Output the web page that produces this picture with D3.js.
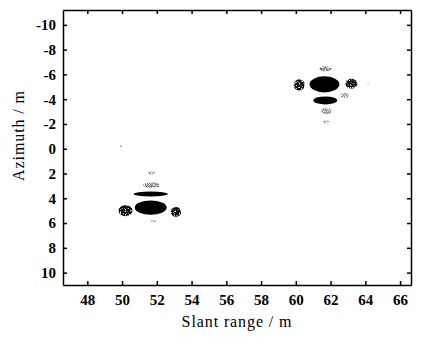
<!DOCTYPE html>
<html>
<head>
<meta charset="utf-8">
<script src="https://cdn.jsdelivr.net/npm/d3@7"></script>
<style>
	html, body {margin: 0; background: #fff; overflow: hidden}
	.axis text {font-family: "Liberation Serif", serif; font-size: 15px; font-weight: bold; fill: #000}
	.axis path, .axis line {stroke: #000; stroke-width: 1.5px}
	.title {font-family: "Liberation Serif", serif; font-size: 16px; letter-spacing: 0.9px; fill: #000}
</style>
</head>
<body>
<script>
	// tick values
	var xTicks = [48, 50, 52, 54, 56, 58, 60, 62, 64, 66];
	var yTicks = [-10, -8, -6, -4, -2, 0, 2, 4, 6, 8, 10];

	// image blobs (slant range m, azimuth m, half width m, half height m, darkness 0-1)
	var blobX = [61.65, 61.7, 60.2, 63.2, 61.7, 62.8, 61.75, 61.75, 64.15,
	             51.65, 51.65, 50.2, 53.1, 51.7, 51.7, 51.8, 49.95];
	var blobY = [-5.2, -3.9, -5.15, -5.25, -6.45, -4.3, -3.05, -2.15, -5.3,
	             4.75, 3.65, 5.0, 5.1, 2.95, 1.95, 5.85, -0.2];
	var blobW = [0.86, 0.69, 0.32, 0.34, 0.35, 0.25, 0.3, 0.2, 0.1,
	             0.92, 0.98, 0.4, 0.3, 0.5, 0.2, 0.15, 0.08];
	var blobH = [0.65, 0.32, 0.45, 0.4, 0.2, 0.2, 0.25, 0.12, 0.05,
	             0.58, 0.2, 0.45, 0.4, 0.22, 0.12, 0.08, 0.08];
	var blobK = [1, 1, 0.95, 0.95, 0.7, 0.55, 0.6, 0.5, 0.4,
	             1, 1, 0.95, 0.95, 0.65, 0.55, 0.6, 0.5];

	var width = 422, height = 337;
	var margin = {top: 10, right: 11, bottom: 52, left: 63};
	var w = width - margin.left - margin.right;
	var h = height - margin.top - margin.bottom;

	var svg = d3.select("body").append("svg")
		.attr("width", width)
		.attr("height", height);

	// grainy print look, heavy for faint lobes, light for strong ones
	var defs = svg.append("defs");
	function addGrain(id, slope, offset) {
		var f = defs.append("filter")
			.attr("id", id)
			.attr("x", "-20%").attr("y", "-20%")
			.attr("width", "140%").attr("height", "140%");
		f.append("feTurbulence")
			.attr("type", "fractalNoise")
			.attr("baseFrequency", 0.8)
			.attr("numOctaves", 1)
			.attr("seed", 3)
			.attr("result", "noise");
		f.append("feColorMatrix")
			.attr("in", "noise")
			.attr("type", "matrix")
			.attr("values", "0 0 0 0 0  0 0 0 0 0  0 0 0 0 0  0 0 0 " + slope + " " + offset)
			.attr("result", "mask");
		f.append("feComposite")
			.attr("in", "SourceGraphic")
			.attr("in2", "mask")
			.attr("operator", "in");
	}
	addGrain("grainLight", -6, 4.2);
	addGrain("grainHeavy", -4, 2.6);

	var g = svg.append("g")
		.attr("transform", "translate(" + margin.left + "," + margin.top + ")");

	var x = d3.scaleLinear().domain([46.6, 66.63]).range([0, w]);
	var y = d3.scaleLinear().domain([-11.2, 11]).range([0, h]);

	var blobs = blobX.map(function(d, i) {
		return {x: d, y: blobY[i], w: blobW[i], h: blobH[i], k: blobK[i]};
	});

	g.append("g")
		.selectAll("ellipse")
		.data(blobs)
		.enter().append("ellipse")
		.attr("cx", function(d) { return x(d.x); })
		.attr("cy", function(d) { return y(d.y); })
		.attr("rx", function(d) { return x(d.x + d.w) - x(d.x); })
		.attr("ry", function(d) { return y(d.y + d.h) - y(d.y); })
		.attr("fill", function(d) { return d3.interpolateGreys(d.k); })
		.attr("filter", function(d) {
			if (d.k >= 1) return null;
			return d.k > 0.9 ? "url(#grainLight)" : "url(#grainHeavy)";
		});

	g.append("g")
		.attr("class", "axis")
		.attr("transform", "translate(0," + h + ")")
		.call(d3.axisBottom(x).tickValues(xTicks).tickSize(-4).tickPadding(9).tickSizeOuter(0));

	g.append("g")
		.attr("class", "axis")
		.call(d3.axisTop(x).tickValues(xTicks).tickSize(-4).tickSizeOuter(0).tickFormat(""));

	g.append("g")
		.attr("class", "axis")
		.call(d3.axisLeft(y).tickValues(yTicks).tickSize(-4).tickPadding(7).tickSizeOuter(0)
			.tickFormat(function(d) { return d < 0 ? "-" + Math.abs(d) : d; }));

	g.append("g")
		.attr("class", "axis")
		.attr("transform", "translate(" + w + ",0)")
		.call(d3.axisRight(y).tickValues(yTicks).tickSize(-4).tickSizeOuter(0).tickFormat(""));

	svg.append("text")
		.attr("class", "title")
		.attr("x", margin.left + w / 2)
		.attr("y", 327)
		.attr("text-anchor", "middle")
		.text("Slant range / m");

	svg.append("text")
		.attr("class", "title")
		.attr("transform", "translate(24," + (margin.top + h / 2 - 12) + ") rotate(-90)")
		.attr("text-anchor", "middle")
		.text("Azimuth / m");
</script>
</body>
</html>
